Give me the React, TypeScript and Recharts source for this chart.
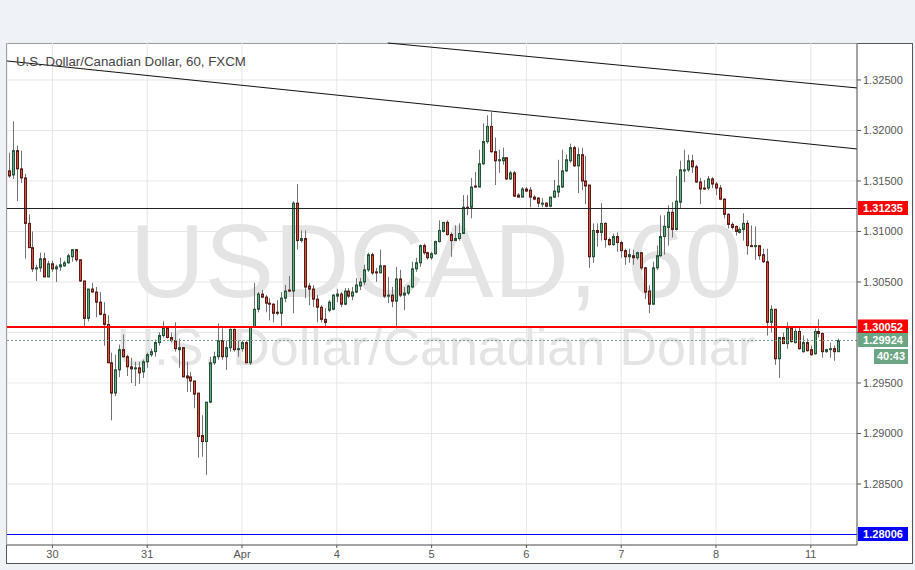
import React from 'react'
import { ComposedChart, Bar, XAxis, YAxis, CartesianGrid, ReferenceLine } from 'recharts'

// hourly USD/CAD candles, Mar 29 – Apr 11
const opens = [
  1.3160, 1.3156, 1.3180, 1.3162, 1.3153, 1.3108, 1.3084, 1.3063, 1.3064, 1.3073,
  1.3055, 1.3068, 1.3063, 1.3065, 1.3066, 1.3069, 1.3075, 1.3082, 1.3072, 1.3051,
  1.3014, 1.3043, 1.3040, 1.3030, 1.3018, 1.3008, 1.2970, 1.2940, 1.2963, 1.2983,
  1.2976, 1.2966, 1.2964, 1.2965, 1.2961, 1.2971, 1.2978, 1.2981, 1.2990, 1.2997,
  1.3004, 1.2995, 1.2992, 1.2983, 1.2985, 1.2957, 1.2956, 1.2952, 1.2940, 1.2898,
  1.2892, 1.2931, 1.2970, 1.2976, 1.2992, 1.2976, 1.2985, 1.3003, 1.2983, 1.2984,
  1.2990, 1.2970, 1.3005, 1.3023, 1.3038, 1.3035, 1.3029, 1.3028, 1.3020, 1.3019,
  1.3034, 1.3042, 1.3041, 1.3128, 1.3091, 1.3093, 1.3046, 1.3043, 1.3033, 1.3025,
  1.3013, 1.3022, 1.3023, 1.3036, 1.3038, 1.3028, 1.3041, 1.3036, 1.3040, 1.3046,
  1.3050, 1.3062, 1.3077, 1.3060, 1.3059, 1.3066, 1.3036, 1.3037, 1.3031, 1.3053,
  1.3037, 1.3039, 1.3045, 1.3063, 1.3069, 1.3086, 1.3079, 1.3074, 1.3078, 1.3090,
  1.3100, 1.3109, 1.3097, 1.3091, 1.3093, 1.3098, 1.3124, 1.3124, 1.3145, 1.3144,
  1.3167, 1.3189, 1.3204, 1.3179, 1.3170, 1.3170, 1.3173, 1.3152, 1.3158, 1.3136,
  1.3134, 1.3142, 1.3141, 1.3134, 1.3133, 1.3127, 1.3128, 1.3125, 1.3134, 1.3139,
  1.3144, 1.3160, 1.3170, 1.3183, 1.3165, 1.3176, 1.3150, 1.3146, 1.3075, 1.3101,
  1.3099, 1.3108, 1.3092, 1.3087, 1.3095, 1.3089, 1.3081, 1.3075, 1.3076, 1.3074,
  1.3079, 1.3064, 1.3041, 1.3028, 1.3064, 1.3076, 1.3095, 1.3104, 1.3119, 1.3102,
  1.3129, 1.3160, 1.3161, 1.3170, 1.3164, 1.3149, 1.3143, 1.3143, 1.3152, 1.3147,
  1.3143, 1.3132, 1.3117, 1.3107, 1.3105, 1.3099, 1.3102, 1.3108, 1.3086, 1.3085,
  1.3086, 1.3077, 1.3070, 1.3010, 1.3023, 1.2974, 1.2995, 1.2989, 1.3004, 1.2990,
  1.3001, 1.2981, 1.2990, 1.2983, 1.2979, 1.3001, 1.2999, 1.2981, 1.2983, 1.2984, 1.2981,
]
const highs = [
  1.3178, 1.3209, 1.3185, 1.3180, 1.3157, 1.3117, 1.3100, 1.3067, 1.3079, 1.3079,
  1.3071, 1.3071, 1.3067, 1.3074, 1.3071, 1.3078, 1.3082, 1.3082, 1.3072, 1.3051,
  1.3043, 1.3049, 1.3045, 1.3040, 1.3030, 1.3017, 1.2980, 1.2978, 1.2988, 1.2998,
  1.2978, 1.2975, 1.2971, 1.2971, 1.2973, 1.2980, 1.2984, 1.2993, 1.3000, 1.3011,
  1.3005, 1.3000, 1.3010, 1.2994, 1.2985, 1.2971, 1.2961, 1.2952, 1.2940, 1.2918,
  1.2931, 1.2976, 1.2981, 1.3009, 1.3004, 1.2992, 1.3004, 1.3004, 1.2992, 1.2992,
  1.2992, 1.3005, 1.3049, 1.3040, 1.3042, 1.3037, 1.3034, 1.3029, 1.3032, 1.3040,
  1.3047, 1.3056, 1.3130, 1.3147, 1.3101, 1.3101, 1.3049, 1.3047, 1.3037, 1.3027,
  1.3024, 1.3032, 1.3038, 1.3043, 1.3040, 1.3044, 1.3044, 1.3045, 1.3054, 1.3054,
  1.3067, 1.3079, 1.3079, 1.3064, 1.3082, 1.3066, 1.3055, 1.3045, 1.3065, 1.3062,
  1.3045, 1.3047, 1.3070, 1.3074, 1.3087, 1.3088, 1.3080, 1.3080, 1.3091, 1.3111,
  1.3109, 1.3111, 1.3099, 1.3106, 1.3108, 1.3136, 1.3136, 1.3153, 1.3159, 1.3181,
  1.3207, 1.3215, 1.3218, 1.3193, 1.3181, 1.3183, 1.3173, 1.3160, 1.3160, 1.3138,
  1.3144, 1.3144, 1.3144, 1.3136, 1.3134, 1.3133, 1.3129, 1.3134, 1.3151, 1.3171,
  1.3181, 1.3176, 1.3187, 1.3185, 1.3183, 1.3183, 1.3175, 1.3146, 1.3108, 1.3108,
  1.3128, 1.3109, 1.3094, 1.3098, 1.3099, 1.3091, 1.3083, 1.3083, 1.3082, 1.3080,
  1.3079, 1.3065, 1.3047, 1.3070, 1.3086, 1.3116, 1.3116, 1.3126, 1.3129, 1.3155,
  1.3170, 1.3181, 1.3176, 1.3176, 1.3166, 1.3153, 1.3151, 1.3155, 1.3154, 1.3149,
  1.3146, 1.3133, 1.3118, 1.3109, 1.3106, 1.3104, 1.3118, 1.3111, 1.3106, 1.3105,
  1.3086, 1.3083, 1.3083, 1.3027, 1.3023, 1.2995, 1.3000, 1.3010, 1.3004, 1.3004,
  1.3005, 1.2997, 1.2994, 1.2987, 1.3004, 1.3013, 1.3000, 1.2984, 1.2990, 1.2987, 1.2994,
]
const lows = [
  1.3153, 1.3152, 1.3130, 1.3148, 1.3073, 1.3084, 1.3060, 1.3051, 1.3060, 1.3055,
  1.3055, 1.3060, 1.3050, 1.3061, 1.3065, 1.3068, 1.3070, 1.3070, 1.3050, 1.3005,
  1.3011, 1.3040, 1.3015, 1.3017, 1.2987, 1.2970, 1.2913, 1.2937, 1.2956, 1.2975,
  1.2957, 1.2950, 1.2947, 1.2949, 1.2955, 1.2965, 1.2976, 1.2976, 1.2987, 1.2995,
  1.2994, 1.2990, 1.2981, 1.2965, 1.2956, 1.2941, 1.2941, 1.2925, 1.2876, 1.2877,
  1.2859, 1.2930, 1.2968, 1.2973, 1.2973, 1.2963, 1.2981, 1.2981, 1.2976, 1.2981,
  1.2970, 1.2968, 1.3005, 1.3020, 1.3034, 1.3020, 1.3012, 1.3010, 1.3017, 1.3005,
  1.3030, 1.3040, 1.3019, 1.3082, 1.3089, 1.3034, 1.3027, 1.3025, 1.3010, 1.3010,
  1.3005, 1.3020, 1.3022, 1.3030, 1.3025, 1.3027, 1.3034, 1.3032, 1.3039, 1.3042,
  1.3047, 1.3060, 1.3057, 1.3050, 1.3059, 1.3034, 1.3029, 1.3025, 1.3004, 1.3035,
  1.3022, 1.3037, 1.3044, 1.3060, 1.3065, 1.3077, 1.3072, 1.3072, 1.3077, 1.3089,
  1.3099, 1.3096, 1.3075, 1.3091, 1.3091, 1.3098, 1.3116, 1.3113, 1.3143, 1.3144,
  1.3166, 1.3187, 1.3178, 1.3146, 1.3158, 1.3166, 1.3151, 1.3151, 1.3134, 1.3134,
  1.3134, 1.3139, 1.3124, 1.3131, 1.3124, 1.3124, 1.3124, 1.3124, 1.3133, 1.3134,
  1.3143, 1.3159, 1.3168, 1.3164, 1.3138, 1.3141, 1.3127, 1.3064, 1.3069, 1.3085,
  1.3091, 1.3084, 1.3086, 1.3086, 1.3080, 1.3074, 1.3067, 1.3069, 1.3067, 1.3072,
  1.3062, 1.3033, 1.3019, 1.3027, 1.3062, 1.3075, 1.3077, 1.3086, 1.3094, 1.3101,
  1.3123, 1.3149, 1.3159, 1.3158, 1.3148, 1.3127, 1.3141, 1.3141, 1.3143, 1.3136,
  1.3131, 1.3113, 1.3103, 1.3102, 1.3096, 1.3098, 1.3091, 1.3077, 1.3085, 1.3072,
  1.3072, 1.3069, 1.2997, 1.3000, 1.2968, 1.2955, 1.2989, 1.2984, 1.2990, 1.2989,
  1.2983, 1.2980, 1.2981, 1.2977, 1.2978, 1.2995, 1.2975, 1.2980, 1.2975, 1.2972, 1.2981,
]
const closes = [
  1.3155, 1.3180, 1.3162, 1.3153, 1.3108, 1.3084, 1.3063, 1.3064, 1.3073, 1.3055,
  1.3068, 1.3063, 1.3065, 1.3067, 1.3069, 1.3076, 1.3082, 1.3072, 1.3051, 1.3014,
  1.3043, 1.3040, 1.3030, 1.3018, 1.3008, 1.2970, 1.2940, 1.2963, 1.2983, 1.2976,
  1.2966, 1.2964, 1.2965, 1.2960, 1.2971, 1.2978, 1.2981, 1.2990, 1.2997, 1.3004,
  1.2995, 1.2992, 1.2984, 1.2985, 1.2956, 1.2955, 1.2952, 1.2939, 1.2897, 1.2892,
  1.2931, 1.2970, 1.2976, 1.2992, 1.2976, 1.2985, 1.3003, 1.2983, 1.2984, 1.2990,
  1.2970, 1.3005, 1.3023, 1.3038, 1.3035, 1.3029, 1.3028, 1.3019, 1.3019, 1.3034,
  1.3041, 1.3041, 1.3128, 1.3091, 1.3093, 1.3045, 1.3043, 1.3033, 1.3025, 1.3013,
  1.3010, 1.3030, 1.3037, 1.3038, 1.3028, 1.3041, 1.3036, 1.3040, 1.3047, 1.3050,
  1.3062, 1.3077, 1.3059, 1.3059, 1.3066, 1.3036, 1.3037, 1.3031, 1.3053, 1.3037,
  1.3039, 1.3046, 1.3063, 1.3069, 1.3086, 1.3079, 1.3074, 1.3078, 1.3090, 1.3101,
  1.3109, 1.3097, 1.3091, 1.3093, 1.3098, 1.3124, 1.3123, 1.3144, 1.3144, 1.3167,
  1.3189, 1.3204, 1.3179, 1.3170, 1.3171, 1.3173, 1.3152, 1.3158, 1.3135, 1.3134,
  1.3142, 1.3140, 1.3134, 1.3132, 1.3128, 1.3128, 1.3125, 1.3134, 1.3140, 1.3145,
  1.3160, 1.3171, 1.3183, 1.3165, 1.3176, 1.3150, 1.3145, 1.3075, 1.3101, 1.3099,
  1.3108, 1.3092, 1.3087, 1.3095, 1.3089, 1.3081, 1.3075, 1.3077, 1.3074, 1.3079,
  1.3064, 1.3040, 1.3028, 1.3064, 1.3076, 1.3095, 1.3105, 1.3119, 1.3102, 1.3130,
  1.3161, 1.3161, 1.3170, 1.3164, 1.3149, 1.3142, 1.3142, 1.3152, 1.3147, 1.3143,
  1.3132, 1.3117, 1.3107, 1.3104, 1.3100, 1.3102, 1.3108, 1.3086, 1.3085, 1.3086,
  1.3076, 1.3070, 1.3010, 1.3023, 1.2974, 1.2995, 1.2989, 1.3004, 1.2991, 1.3001,
  1.2984, 1.2990, 1.2982, 1.2978, 1.3001, 1.2999, 1.2981, 1.2983, 1.2984, 1.2981, 1.2992,
]

const dayTicks = [11, 35, 59, 83, 107, 131, 155, 179, 203]
const dayLabels = ['30', '31', 'Apr', '4', '5', '6', '7', '8', '11']
const priceTicks = [1.285, 1.29, 1.295, 1.3, 1.305, 1.31, 1.315, 1.32, 1.325]

const resistance = 1.31235
const pivot = 1.30052
const support = 1.28006
const lastPrice = 1.29924
const countdown = '40:43'

// trend lines as [bar index, price] end points
const upperTrend = [[95.9, 1.32866], [214.7, 1.32421]]
const lowerTrend = [[-0.5, 1.32688], [214.7, 1.31817]]

const candles = opens.map((o, i) => ({ i, open: o, high: highs[i], low: lows[i], close: closes[i] }))

const FONT = '"Liberation Sans", Arial, sans-serif'

function Candle(props: any) {
  const { x, y, width, height, payload } = props
  if (!payload || height == null) return null
  const top = Math.min(y, y + height)
  const span = Math.abs(height)
  const range = payload.high - payload.low || 1
  const py = (v: number) => top + ((payload.high - v) / range) * span
  const up = payload.close >= payload.open
  const cx = Math.round(x + width / 2) + 0.5
  const bodyTop = py(Math.max(payload.open, payload.close))
  const bodyH = Math.max(py(Math.min(payload.open, payload.close)) - bodyTop, 1)
  return (
    <g>
      <line x1={cx} x2={cx} y1={top} y2={top + span} stroke="#737375" strokeWidth={1} />
      <rect
        x={cx - 1}
        y={bodyTop}
        width={2}
        height={bodyH}
        fill={up ? '#6ba583' : '#d75442'}
        stroke={up ? '#225437' : '#5b1a13'}
        strokeWidth={1}
      />
    </g>
  )
}

// draws the level line on whole pixels plus its price badge on the axis
function level(text: string, lineColor: string, fill: string, weight = 1, dashed?: boolean, extra?: string) {
  return (p: any) => {
    const vb = p.viewBox
    if (!vb) return null
    const right = vb.x + vb.width
    const y = weight === 2 ? Math.round(vb.y) : Math.round(vb.y) + 0.5
    return (
      <g>
        <line
          x1={vb.x}
          x2={right}
          y1={y}
          y2={y}
          stroke={lineColor}
          strokeWidth={weight}
          strokeDasharray={dashed ? '2 2' : undefined}
        />
        <rect x={right + 1} y={y - 7.5} width={50} height={14} fill={fill} />
        <text x={right + 26} y={y + 3.5} textAnchor="middle" fill="#fff" fontSize={11} fontWeight="bold" fontFamily={FONT}>
          {text}
        </text>
        {extra && (
          <g>
            <rect x={right + 17} y={y + 8.5} width={34} height={15} fill={fill} />
            <text x={right + 34} y={y + 19.5} textAnchor="middle" fill="#fff" fontSize={11} fontWeight="bold" fontFamily={FONT}>
              {extra}
            </text>
          </g>
        )}
      </g>
    )
  }
}

function PriceTick(props: any) {
  const { x, y, payload } = props
  if (Math.abs(payload.value - 1.3) < 1e-6) return null
  return (
    <text x={x} y={y} dy={4} textAnchor="start" fill="#555" fontSize={11} fontFamily={FONT}>
      {payload.value.toFixed(5)}
    </text>
  )
}

export default function App() {
  return (
    <div style={{ position: 'fixed', left: 0, top: 0, width: 915, height: 570, background: '#eff2f6', fontFamily: FONT }}>
      <div
        style={{
          position: 'absolute',
          left: 6,
          top: 43,
          width: 905,
          height: 519,
          background: '#fff',
          border: '1px solid #555',
        }}
      />
      <svg width={915} height={570} style={{ position: 'absolute', left: 0, top: 0 }}>
        <text x={436} y={297} textAnchor="middle" fontSize={104} fill="#e4e4e4" fontFamily={FONT}>
          USDCAD, 60
        </text>
        <text x={436} y={365} textAnchor="middle" fontSize={52} fill="#e4e4e4" fontFamily={FONT}>
          U.S. Dollar/Canadian Dollar
        </text>
      </svg>
      <div style={{ position: 'absolute', left: 0, top: 0 }}>
        <ComposedChart width={915} height={570} data={candles} margin={{ top: 43, left: 7, right: 3, bottom: 7 }}>
          <CartesianGrid stroke="#e6e6e6" />
          <XAxis
            dataKey="i"
            type="number"
            domain={[-0.5, 214.7]}
            allowDataOverflow
            ticks={dayTicks}
            interval={0}
            tickFormatter={(v: number) => dayLabels[dayTicks.indexOf(v)]}
            height={18}
            tickSize={3}
            axisLine={{ stroke: '#555' }}
            tickLine={{ stroke: '#555' }}
            tick={{ fill: '#555', fontSize: 11, fontFamily: FONT }}
          />
          <YAxis
            orientation="right"
            type="number"
            domain={[1.27896, 1.32866]}
            allowDataOverflow
            ticks={priceTicks}
            interval={0}
            width={55}
            tickSize={4}
            axisLine={{ stroke: '#555' }}
            tickLine={{ stroke: '#555' }}
            tick={<PriceTick />}
          />
          <Bar
            dataKey={(d: any) => [d.low, d.high]}
            barSize={4}
            shape={<Candle />}
            isAnimationActive={false}
          />
          <ReferenceLine
            segment={[{ x: lowerTrend[0][0], y: lowerTrend[0][1] }, { x: lowerTrend[1][0], y: lowerTrend[1][1] }]}
            stroke="#111"
            strokeWidth={1}
            ifOverflow="visible"
          />
          <ReferenceLine
            segment={[{ x: upperTrend[0][0], y: upperTrend[0][1] }, { x: upperTrend[1][0], y: upperTrend[1][1] }]}
            stroke="#111"
            strokeWidth={1}
            ifOverflow="visible"
          />
          <ReferenceLine y={resistance} stroke="none" label={level('1.31235', '#222', '#ff0000')} />
          <ReferenceLine y={pivot} stroke="none" label={level('1.30052', '#ff0000', '#ff0000', 2)} />
          <ReferenceLine y={lastPrice} stroke="none" label={level('1.29924', '#6ba583', '#6ba583', 1, true, countdown)} />
          <ReferenceLine y={support} stroke="none" label={level('1.28006', '#0000ff', '#0000ff')} />
        </ComposedChart>
      </div>
      <svg width={400} height={30} style={{ position: 'absolute', left: 0, top: 48, pointerEvents: 'none' }}>
        <text x={16} y={18} fontSize={13.3} fill="#444" fontFamily={FONT}>
          U.S. Dollar/Canadian Dollar, 60, FXCM
        </text>
      </svg>
    </div>
  )
}
